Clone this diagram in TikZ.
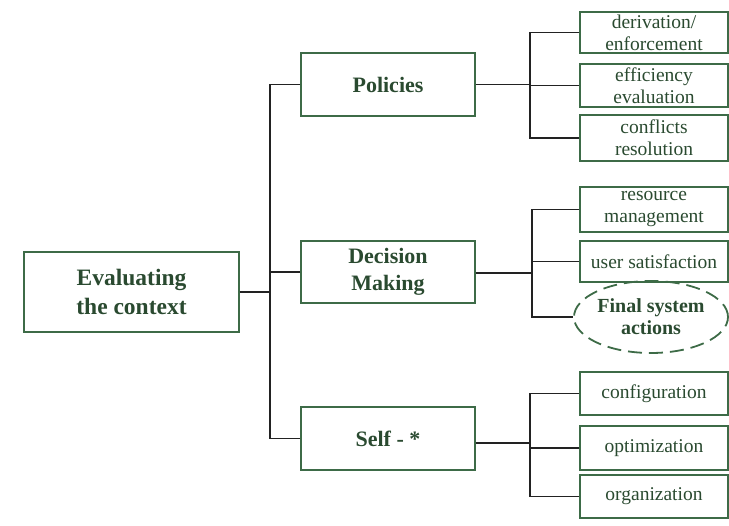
\documentclass[tikz,border=0pt]{standalone}
\usepackage{fontspec}
\setmainfont{Liberation Serif}
\newfontfamily\timesfont{Liberation Serif}
\usetikzlibrary{shapes.geometric}
\definecolor{boxgreen}{HTML}{3D6B47}
\definecolor{txtgreen}{HTML}{2A4A30}
\definecolor{wire}{HTML}{222222}
\begin{document}
\begin{tikzpicture}[x=1pt,y=-1pt,
  mainbox/.style={draw=boxgreen,line width=1.3pt,text=txtgreen,align=center,
    inner sep=0pt,font=\timesfont\fontsize{22}{27}\selectfont\bfseries},
  leafbox/.style={draw=boxgreen,line width=1.3pt,text=txtgreen,align=center,
    inner sep=0pt,minimum width=148pt,font=\timesfont\fontsize{19.5}{22}\selectfont},
  wires/.style={draw=wire,line width=1.3pt}]
\useasboundingbox (0,0) rectangle (729,526);

% root and second level
\node[mainbox,minimum width=215pt,minimum height=80pt,
  font=\timesfont\fontsize{23.5}{29}\selectfont\bfseries] (root) at (131.5,292) {Evaluating\\the context};
\node[mainbox,minimum width=174pt,minimum height=63pt] (pol) at (388,84.5) {Policies};
\node[mainbox,minimum width=174pt,minimum height=62pt] (dec) at (388,272) {Decision\\Making};
\node[mainbox,minimum width=174pt,minimum height=63pt] (self) at (388,438.5) {Self - *};

% leaves
\node[leafbox,minimum height=41pt] (der) at (654,32.5) {derivation/\\enforcement};
\node[leafbox,minimum height=43pt] (eff) at (654,85.5) {efficiency\\evaluation};
\node[leafbox,minimum height=46pt] (con) at (654,138) {conflicts\\resolution};
\node[leafbox,minimum height=45pt] (res) at (654,209.5) {resource\\management};
\node[leafbox,minimum height=41pt] (usr) at (654,261.5) {user satisfaction};
\node[ellipse,draw=boxgreen,line width=1.8pt,dash pattern=on 14pt off 7pt,
  text=txtgreen,align=center,inner sep=0pt,minimum width=154pt,minimum height=72pt,
  font=\timesfont\fontsize{20}{22}\selectfont\bfseries] (fin) at (651,317) {Final system\\actions};
\node[leafbox,minimum height=43pt] (cfg) at (654,393.5) {configuration};
\node[leafbox,minimum height=44pt] (opt) at (654,448) {optimization};
\node[leafbox,minimum height=43pt] (org) at (654,496.5) {organization};

% junction points
\coordinate (jr) at (270,292);
\coordinate (jp) at (530,84.5);
\coordinate (jd) at (532,273);
\coordinate (js) at (530,443);

% trunk from the root
\draw[wires] (root.east) -- (jr);
\draw[wires] (pol.west) -| (jr) |- (self.west);
\draw[wires] (dec.west) -- (dec.west -| jr);

% policies branch
\draw[wires] (pol.east) -- (jp);
\draw[wires] (der.west) -| (jp) |- (con.west);
\draw[wires] (eff.west) -- (eff.west -| jp);

% decision branch
\draw[wires] (dec.east |- jd) -- (jd);
\draw[wires] (res.west) -| (jd) |- (fin.west);
\draw[wires] (usr.west) -- (usr.west -| jd);

% self branch
\draw[wires] (self.east |- js) -- (js);
\draw[wires] (cfg.west) -| (js) |- (org.west);
\draw[wires] (opt.west) -- (opt.west -| js);
\end{tikzpicture}
\end{document}
